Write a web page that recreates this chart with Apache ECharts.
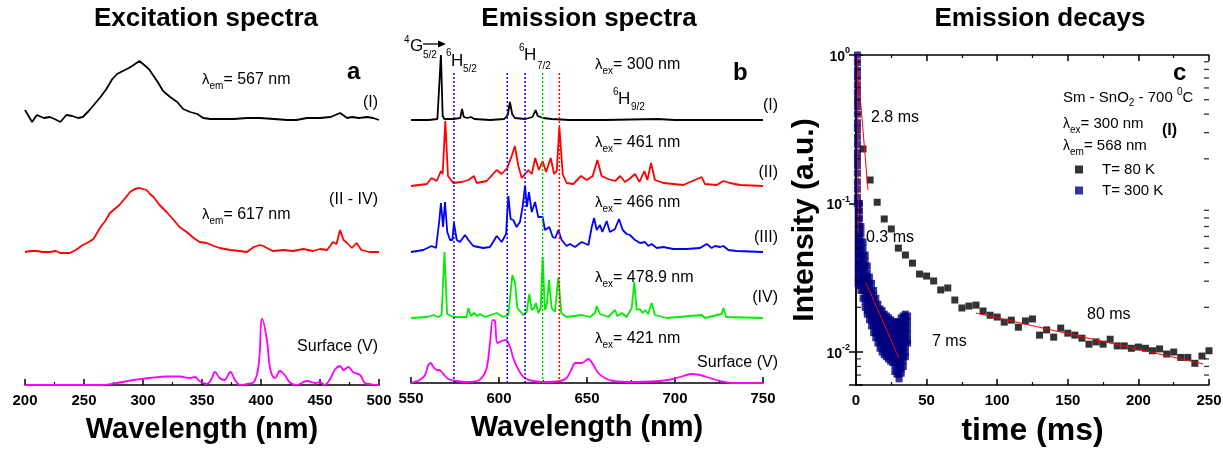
<!DOCTYPE html>
<html><head><meta charset="utf-8">
<script src="https://cdn.jsdelivr.net/npm/echarts@6/dist/echarts.min.js"></script>
<style>html,body{margin:0;padding:0;background:#fff}#c{width:1223px;height:450px}</style>
</head><body><div id="c"></div>
<script>
// ---------------- DATA ----------------
// Panel a: excitation spectra, [wavelength nm, relative intensity]
const excI = [[200,9],[206,-3],[210,4],[216,1],[221,2],[225,0],[230,-3],[235,4],[240,3],[245,1],[249,2],[254,8],[259,15],[264,22],[269,30],[274,40],[278,45],[283,48],[288,51],[292,54],[297,58],[300,55],[305,50],[309,43],[313,36],[317,28],[323,22],[329,17],[334,10],[340,7],[346,5],[351,1],[357,0],[365,0],[377,0],[388,1],[399,1],[411,0],[422,-1],[430,-1],[439,1],[450,1],[459,2],[467,6],[473,1],[477,2],[483,1],[490,2],[495,1],[500,-1]];
const excII = [[200,0],[205,1],[210,1],[215,0],[221,0],[226,1],[230,-1],[238,-1],[243,2],[249,7],[254,10],[258,13],[264,25],[268,31],[272,39],[276,43],[280,47],[285,54],[289,60],[293,63],[297,64],[300,63],[303,62],[306,58],[309,55],[314,47],[320,40],[326,32],[331,25],[337,20],[343,14],[348,10],[354,9],[360,6],[365,4],[374,2],[382,1],[388,0],[394,5],[399,7],[402,6],[405,4],[410,1],[419,2],[427,1],[436,3],[444,1],[450,3],[456,2],[461,10],[464,8],[467,22],[470,12],[473,9],[477,4],[481,9],[485,2],[492,0],[500,0]];
const excV = [[200,0],[264,0],[278,2],[292,5],[306,7],[320,8.5],[331,8.5],[340,7],[344,8],[348,4],[354,1],[358,6],[361,13],[365,7],[369,5],[374,13],[378,5],[382,0],[388,1],[394,3],[398,20],[401,66],[405,45],[408,15],[412,7],[416,14],[420,10],[425,2],[430,0],[439,4],[446,2],[450,3],[454,0],[458,5],[463,16],[467,19],[470,15],[474,18],[478,13],[484,10],[488,2],[492,1],[497,0],[500,1]];
const excOffsets = [266, 133, 0];

// Panel b: emission spectra
const emI = [[550,0],[560,0],[565,1],[566,3],[567,65],[568,4],[569,1],[574,1],[578,2],[579,11],[580,3],[582,2],[584,3],[586,1],[595,0],[603,1],[605,5],[606.2,18],[607.5,6],[609,2],[615,1],[619,3],[620.8,10],[622,4],[625,2],[630,1],[640,0],[660,0],[690,1],[700,0],[720,0],[750,0]];
const emII = [[550,0],[559,2],[561.7,8],[564.6,5],[567,15],[568,12],[569.5,65],[571,10],[574,3],[578.8,4],[582.6,6],[585.8,10],[587.3,3],[593,5],[598.7,16],[601.5,12],[604.7,18],[607.2,30],[609,40],[611,20],[612.9,8],[614.8,12],[616.7,16],[618.6,12],[620.6,28],[622.6,16],[624.8,25],[626.7,14],[629.4,28],[631.3,12],[632.8,15],[634.3,59],[636.2,12],[638.4,3],[642.2,2],[646.6,10],[649.8,6],[653.2,10],[655.9,26],[658.3,10],[662,7],[666,5],[668.8,10],[671.6,4],[674,7],[677.3,12],[679.8,4],[682.6,15],[684.3,6],[686.4,23],[688.6,6],[693.4,3],[704.7,1],[715.2,9],[717,2],[723.7,1],[727.5,5],[731.3,3],[737,1],[750,0]];
const emIII = [[550,0],[557,2],[561.7,6],[564.2,4],[566,30],[567,49],[568.2,25],[569.3,50],[570.6,20],[572.2,12],[573.5,12],[574.4,29],[576,12],[577.8,10],[580.7,17],[582.6,12],[585.4,6],[591,4],[594.9,5],[598.7,16],[601.5,10],[604,18],[605.3,56],[606.6,33],[608.1,32],[610,25],[611.9,30],[613.4,45],[614.8,66],[615.9,45],[617,60],[618.6,40],[620.5,50],[622.3,35],[624.8,35],[626.1,22],[628.6,25],[630.5,15],[632,14],[633.7,22],[635.6,12],[638.4,6],[640.3,8],[643.2,5],[647,10],[650.8,7],[652.7,25],[654,34],[655.5,22],[657.4,27],[658.7,20],[661.2,31],[663,20],[665.9,23],[668.2,33],[670.3,22],[672.5,18],[674.4,17],[677.3,12],[680.1,9],[683,10],[684.8,6],[686.7,8],[689.6,4],[693.4,5],[699,3],[706.6,3],[714.2,4],[718,8],[720.8,4],[722.7,6],[725.6,5],[727.5,6],[730.3,2],[735,1],[750,0]];
const emIV = [[550,0],[559,1],[562.7,3],[565.5,1],[567.4,3],[569,66],[570.5,4],[574,1],[581.6,1],[582.6,10],[583.9,2],[585.8,5],[587.7,2],[589.2,4],[592,1],[598.7,5],[602.5,1],[605.3,3],[607.6,43],[609.1,35],[610.4,10],[613.8,3],[615.7,6],[617.2,24],[618.6,8],[619.9,10],[621,15],[622.3,5],[623.7,10],[624.8,61],[626.1,8],[627.3,15],[628.4,38],[629.9,10],[631.8,6],[633.7,41],[635.4,5],[638.4,1],[647,3],[651.7,1],[654.5,5],[655.5,12],[657.4,4],[662.1,1],[666,8],[667.2,2],[669.7,5],[672.5,1],[675.4,10],[676.9,36],[678.2,8],[680.1,9],[681.6,5],[683,8],[684.8,4],[686.7,15],[688.6,3],[695.3,0],[715.2,3],[717,0],[726.5,4],[727.5,10],[729,1],[750,0]];
const emV = [[550,0],[555,3],[558,8],[559.8,18],[561.2,20],[562.7,16],[564.6,13],[566.1,13],[568.4,9],[571.2,4],[576,2],[581.6,1],[587.3,2],[590.2,5],[593,15],[594.9,40],[596.4,63],[597.7,62],[599,40],[601.5,42],[604,43],[606.3,36],[608.1,25],[610,17],[612.9,8],[615.7,4],[619.5,2],[625.2,1],[634.7,2],[638.4,5],[641.3,14],[643.2,20],[647,20],[650.8,24],[653.6,18],[656.4,10],[660.2,5],[665,2],[676.3,1],[691.5,2],[699,4],[704.7,7],[709.5,9],[714.2,8],[719.9,5],[725.6,2],[733.1,0],[750,0]];
const emOffsets = [263, 197, 131, 65, 0];
const transitions = [574.4, 604.7, 614.8, 624.8, 634.3];
const transitionTop = 311;

// Panel c: decays
const decay80T = [5,10,15,20,25,30,35,40,45,50,55,60,65,70,75,80,85,90,95,100,105,110,115,120,125,130,135,140,145,150,155,160,165,170,175,180,185,190,195,200,205,210,215,220,225,230,235,240,245,250];
const decay80V = [0.233,0.144,0.102,0.0787,0.0674,0.0501,0.045,0.0397,0.0335,0.0325,0.0301,0.0262,0.027,0.0224,0.0198,0.0204,0.0207,0.0189,0.0177,0.0172,0.0159,0.0164,0.0147,0.0162,0.0167,0.013,0.0141,0.0126,0.0145,0.0134,0.013,0.0124,0.0113,0.0117,0.0113,0.0122,0.011,0.011,0.0106,0.0108,0.0106,0.0102,0.0105,0.0097,0.01,0.0092,0.0092,0.0084,0.0094,0.0102];
const decay300 = [
  [1.0, [1.0,0.89,0.79,0.71,0.63,0.56,0.5,0.45,0.4,0.35,0.32,0.28,0.25,0.22,0.2,0.18,0.16,0.14,0.125,0.11,0.1]],
  [1.5, [0.1,0.09,0.08,0.071,0.063,0.056,0.05,0.045,0.04,0.036,0.032,0.029]],
  [2.5, [0.1,0.089,0.079,0.07,0.062,0.055,0.049,0.044,0.039,0.035,0.031,0.028]],
  [3.5, [0.07,0.063,0.056,0.05,0.045,0.04,0.036,0.032,0.029,0.026]],
  [5, [0.055,0.05,0.045,0.04,0.036,0.032,0.029,0.026,0.023]],
  [6.5, [0.045,0.041,0.037,0.033,0.03,0.027,0.024,0.022,0.02]],
  [8, [0.038,0.034,0.031,0.028,0.025,0.023,0.021,0.019,0.018]],
  [9.5, [0.032,0.029,0.026,0.024,0.022,0.02,0.018,0.0165]],
  [11, [0.029,0.026,0.024,0.022,0.02,0.018,0.0165,0.015]],
  [12.5, [0.026,0.024,0.022,0.02,0.018,0.0165,0.015,0.0135]],
  [14, [0.023,0.021,0.019,0.0175,0.016,0.0145,0.0135,0.0125]],
  [15.5, [0.021,0.019,0.0175,0.016,0.0147,0.0135,0.0125,0.0115]],
  [17, [0.0195,0.018,0.0165,0.015,0.0138,0.0127,0.0116,0.0106]],
  [18.5, [0.019,0.0173,0.0158,0.0145,0.0133,0.0122,0.0111,0.01]],
  [20, [0.018,0.0165,0.0152,0.014,0.0128,0.0117,0.0106,0.0096]],
  [21.5, [0.0175,0.016,0.0147,0.0135,0.0124,0.0113,0.0103,0.0093]],
  [23, [0.017,0.0156,0.0143,0.0131,0.012,0.011,0.01,0.009]],
  [24.5, [0.0165,0.0152,0.0139,0.0127,0.0116,0.0106,0.0096,0.0087]],
  [26, [0.016,0.0147,0.0135,0.0123,0.0113,0.0103,0.0094,0.0085]],
  [27.5, [0.016,0.0146,0.0133,0.0121,0.011,0.01,0.0091,0.0082,0.0074]],
  [29, [0.0157,0.0143,0.013,0.0118,0.0107,0.0097,0.0088,0.0079,0.0071]],
  [30.5, [0.016,0.0145,0.0132,0.012,0.0108,0.0098,0.0088,0.0079,0.0071,0.0066]],
  [32, [0.017,0.0155,0.014,0.0127,0.0115,0.0104,0.0094,0.0085,0.0077,0.0072]],
  [33.5, [0.0175,0.0159,0.0144,0.013,0.0118,0.0107,0.0097,0.0088,0.008]],
  [35, [0.018,0.0163,0.0148,0.0134,0.0121,0.011,0.01,0.0093]],
  [36.5, [0.0175,0.016,0.0145,0.0132,0.012,0.0115]]
];
const fit28 = [[0.7,0.95],[8.5,0.123]];
const fit03 = [[1.2,1.0],[1.6,0.063]];
const fit7 = [[7.1,0.0292],[30.4,0.0091]];
const fit80 = [[85,0.0183],[246,0.00832]];
const logMajor = [0.01, 0.1, 1];
const logMinor = [0.007,0.008,0.009,0.02,0.03,0.04,0.05,0.06,0.07,0.08,0.09,0.2,0.3,0.4,0.5,0.6,0.7,0.8,0.9];
const logLabels = {'0.01':'-2','0.1':'-1','1':'0'};
const timeRange = [0, 250];

// ---------------- BUILD ----------------
const FONT = '"Liberation Sans", Arial, Helvetica, sans-serif';
const ctx = document.createElement('canvas').getContext('2d');
function measure(t, size, weight) { ctx.font = (weight||'normal') + ' ' + size + 'px ' + FONT; return ctx.measureText(t).width; }
function seg(x, y, parts) {
  const out = []; let cx = x;
  parts.forEach(p => {
    const [t, size, dy, weight] = p;
    out.push({type:'text', x: cx, y: y + (dy||0), z: 100, silent:true,
      style:{text:t, fontFamily:FONT, fontSize:size, fontWeight:weight||'normal', fill:'#000', align:'left', verticalAlign:'middle'}});
    cx += measure(t, size, weight||'normal');
  });
  return out;
}
function txt(x, y, t, size, align, weight) {
  return {type:'text', x, y, z:100, silent:true, style:{text:t, fontFamily:FONT, fontSize:size, fontWeight:weight||'normal', fill:'#000', align:align||'left', verticalAlign:'middle'}};
}
function lam(x, y, sub, rest) { return seg(x, y, [['λ',15,0],[sub,10,6],[rest,16,0]]); }

const axisBlack = {color:'#000', width:1.5};
function wlAxis(gi, min, max) {
  return {gridIndex:gi, type:'value', min, max, interval:50,
    axisLine:{show:true, onZero:false, lineStyle:axisBlack},
    axisTick:{show:true, inside:true, length:6, lineStyle:axisBlack},
    minorTick:{show:true, splitNumber:2, length:3, lineStyle:{color:'#000', width:1.2}},
    splitLine:{show:false}, minorSplitLine:{show:false},
    axisLabel:{color:'#000', fontFamily:FONT, fontWeight:'bold', fontSize:15, margin:8},
    name:'Wavelength (nm)', nameLocation:'middle', nameGap:30,
    nameTextStyle:{color:'#000', fontFamily:FONT, fontWeight:'bold', fontSize:29}};
}
function logAxis(pos, labels) {
  const a = {gridIndex:2, type:'log', logBase:10, min:0.006, max:1, position:pos,
    axisLine:{show:true, lineStyle:axisBlack},
    axisTick:{show:true, inside:true, length:7, lineStyle:axisBlack},
    splitLine:{show:false}, axisLabel:{show:false}};
  if (labels) {
    a.axisLabel = {show:true, margin:6, color:'#000',
      formatter: v => { const k = logLabels[String(+(+v).toPrecision(3))]; return k ? '{b|10}{s|' + k + '}' : ''; },
      rich:{b:{fontFamily:FONT, fontWeight:'bold', fontSize:14, lineHeight:18, verticalAlign:'bottom', color:'#000'},
            s:{fontFamily:FONT, fontWeight:'bold', fontSize:9, lineHeight:10, verticalAlign:'top', color:'#000'}}};
    a.name = 'Intensity (a.u.)'; a.nameLocation = 'middle'; a.nameGap = 36;
    a.nameTextStyle = {color:'#000', fontFamily:FONT, fontWeight:'bold', fontSize:30};
  }
  return a;
}
function timeAxis(pos, labels) {
  const a = {gridIndex:2, type:'value', min:timeRange[0], max:timeRange[1], interval:50, position:pos,
    axisLine:{show:true, onZero:false, lineStyle:axisBlack},
    axisTick:{show:true, inside:true, length:6, lineStyle:axisBlack},
    minorTick:{show:true, splitNumber:2, length:3, lineStyle:{color:'#000', width:1.2}},
    splitLine:{show:false}, minorSplitLine:{show:false},
    axisLabel:{show:labels, color:'#000', fontFamily:FONT, fontWeight:'bold', fontSize:15, margin:8}};
  if (labels) { a.name = 'time (ms)'; a.nameLocation='middle'; a.nameGap=30;
    a.nameTextStyle={color:'#000', fontFamily:FONT, fontWeight:'bold', fontSize:32}; }
  return a;
}

const series = [];
function spec(data, off, color, xi, yi, smooth) {
  series.push({type:'line', xAxisIndex:xi, yAxisIndex:yi, showSymbol:false, symbol:'none', smooth: smooth||false,
    data: data.map(p => [p[0], p[1] + off]), lineStyle:{color, width:1.8}, itemStyle:{color}, animation:false, silent:true});
}
spec(excI, excOffsets[0], '#000000', 0, 0);
spec(excII, excOffsets[1], '#ff0000', 0, 0);
spec(excV, excOffsets[2], '#ff00ff', 0, 0, 0.4);
spec(emI, emOffsets[0], '#000000', 1, 1);
spec(emII, emOffsets[1], '#ff0000', 1, 1);
spec(emIII, emOffsets[2], '#0000ff', 1, 1);
spec(emIV, emOffsets[3], '#00ee00', 1, 1);
spec(emV, emOffsets[4], '#ff00ff', 1, 1, 0.3);
const trColors = ['#0000ff','#0000ff','#0000ff','#00cc00','#ff0000'];
transitions.forEach((w, i) => {
  series.push({type:'line', xAxisIndex:1, yAxisIndex:1, showSymbol:false, symbol:'none', z:5,
    data:[[w,0],[w,transitionTop]], lineStyle:{color:trColors[i], width:1.5, type:[2,2]}, silent:true});
});
const pts80 = decay80T.map((t, i) => [t, decay80V[i]]);
const pts300 = [];
decay300.forEach(([t, vs]) => vs.forEach(v => pts300.push([t, v])));
series.push({name:'T= 80 K', type:'scatter', xAxisIndex:2, yAxisIndex:2, symbol:'rect', symbolSize:7, data:pts80, itemStyle:{color:'#000'}, z:3});
series.push({name:'T= 300 K', type:'scatter', xAxisIndex:2, yAxisIndex:2, symbol:'rect', symbolSize:7, data:pts300, itemStyle:{color:'#000080'}, z:4});
[fit28, fit03, fit7, fit80].forEach(f => series.push({type:'line', xAxisIndex:2, yAxisIndex:2, showSymbol:false, symbol:'none', data:f, lineStyle:{color:'#ff0000', width:1}, z:6, silent:true}));
// minor log ticks (left and right frame), placed through the log axis
series.push({type:'scatter', xAxisIndex:2, yAxisIndex:2, symbol:'rect', symbolSize:[5,1.3], symbolOffset:[2.5,0], clip:false, silent:true, z:7,
  data: logMinor.map(v => [timeRange[0], v]), itemStyle:{color:'#000'}});
series.push({type:'scatter', xAxisIndex:2, yAxisIndex:2, symbol:'rect', symbolSize:[5,1.3], symbolOffset:[-2.5,0], clip:false, silent:true, z:7,
  data: logMinor.map(v => [timeRange[1], v]), itemStyle:{color:'#000'}});

let graphic = [];
graphic.push(txt(206, 19, 'Excitation spectra', 26, 'center', 'bold'));
graphic.push(txt(589, 19, 'Emission spectra', 26, 'center', 'bold'));
graphic.push(txt(1040, 19, 'Emission decays', 26, 'center', 'bold'));
// panel a
graphic = graphic.concat(lam(202, 80, 'em', '= 567 nm'));
graphic.push(txt(347, 72, 'a', 24, 'left', 'bold'));
graphic.push(txt(378, 103, '(I)', 16, 'right'));
graphic.push(txt(378, 200, '(II - IV)', 16, 'right'));
graphic = graphic.concat(lam(202, 215, 'em', '= 617 nm'));
graphic.push(txt(378, 347, 'Surface (V)', 16, 'right'));
// panel b
graphic = graphic.concat(seg(404, 40, [['4',10,0]]), seg(410, 46, [['G',17,0]]), seg(423, 55, [['5/2',10,0]]));
graphic.push({type:'line', z:100, shape:{x1:423, y1:44, x2:441, y2:44}, style:{stroke:'#000', lineWidth:1.3}});
graphic.push({type:'polygon', z:100, shape:{points:[[446,44],[438,40.5],[438,47.5]]}, style:{fill:'#000'}});
graphic = graphic.concat(seg(446, 53, [['6',10,0]]), seg(451, 61, [['H',17,0]]), seg(463, 69, [['5/2',10,0]]));
graphic = graphic.concat(seg(519, 48, [['6',10,0]]), seg(524, 55, [['H',17,0]]), seg(537, 66, [['7/2',10,0]]));
graphic = graphic.concat(lam(595, 65, 'ex', '= 300 nm'));
graphic = graphic.concat(seg(613, 92, [['6',10,0]]), seg(618, 99, [['H',17,0]]), seg(631, 107, [['9/2',10,0]]));
graphic.push(txt(733, 73, 'b', 24, 'left', 'bold'));
graphic.push(txt(778, 106, '(I)', 16, 'right'));
graphic = graphic.concat(lam(595, 143, 'ex', '= 461 nm'));
graphic.push(txt(778, 173, '(II)', 16, 'right'));
graphic = graphic.concat(lam(595, 203, 'ex', '= 466 nm'));
graphic.push(txt(778, 238, '(III)', 16, 'right'));
graphic = graphic.concat(lam(595, 278, 'ex', '= 478.9 nm'));
graphic.push(txt(778, 298, '(IV)', 16, 'right'));
graphic = graphic.concat(lam(595, 339, 'ex', '= 421 nm'));
graphic.push(txt(778, 363, 'Surface (V)', 16, 'right'));
// panel c
graphic.push(txt(1173, 73, 'c', 24, 'left', 'bold'));
graphic = graphic.concat(seg(1063, 98, [['Sm - SnO',15,0],['2',10,5],[' - 700 ',15,0],['0',10,-6],['C',15,0]]));
graphic = graphic.concat(seg(1063, 124, [['λ',14,0],['ex',10,6],['= 300 nm',15,0]]));
graphic.push(txt(1162, 131, '(I)', 16, 'left', 'bold'));
graphic = graphic.concat(seg(1063, 146, [['λ',14,0],['em',10,6],['= 568 nm',15,0]]));
graphic.push(txt(871, 118, '2.8 ms', 16));
graphic.push(txt(866, 238, '0.3 ms', 16));
graphic.push(txt(932, 342, '7 ms', 16));
graphic.push(txt(1087, 315, '80 ms', 16));

const option = {
  animation:false,
  backgroundColor:'#fff',
  grid:[
    {left:25, right:844, top:40, bottom:65, containLabel:false, outerBoundsMode:'none'},
    {left:411, right:460, top:40, bottom:67, containLabel:false, outerBoundsMode:'none'},
    {left:856, right:14, top:55, bottom:65, containLabel:false, outerBoundsMode:'none'}
  ],
  xAxis:[wlAxis(0,200,500), wlAxis(1,550,750), timeAxis('bottom', true), timeAxis('top', false)],
  yAxis:[
    {gridIndex:0, type:'value', min:0, max:345, show:false},
    {gridIndex:1, type:'value', min:0, max:343, show:false},
    logAxis('left', true),
    logAxis('right', false)
  ],
  legend:{show:true, data:['T= 80 K','T= 300 K'], orient:'vertical', left:1070, top:157, itemWidth:8, itemHeight:8, itemGap:6, icon:'rect',
    textStyle:{color:'#000', fontFamily:FONT, fontSize:15, padding:[0,0,0,14]}},
  series, graphic
};
const chart = echarts.init(document.getElementById('c'));
chart.setOption(option);
</script></body></html>
